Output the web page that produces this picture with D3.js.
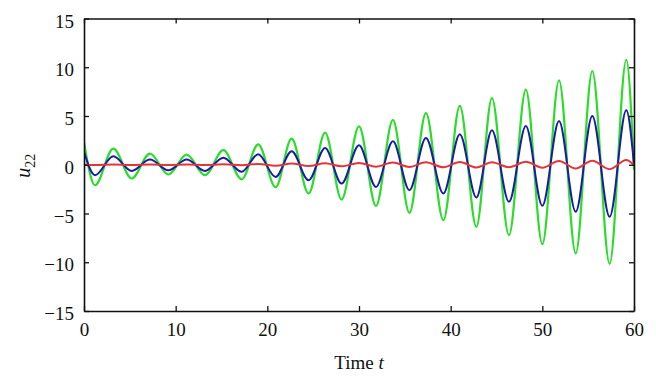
<!DOCTYPE html>
<html>
<head>
<meta charset="utf-8">
<script src="https://cdn.jsdelivr.net/npm/d3@7"></script>
<style>
  html, body { margin: 0; padding: 0; background: #fff; }
  svg { display: block; }
  text { font-family: "Liberation Serif", "DejaVu Serif", serif; fill: #111; }
</style>
</head>
<body>
<svg id="chart" width="656" height="383"></svg>
<script>
// Extremum times (t), shared by all three curves
const times = [0, 1.2, 3.2, 5.2, 7.2, 9.2, 11.2, 13.2, 15.2, 17.2, 19.0, 20.9, 22.65, 24.5, 26.3, 28.1,
  30.0, 31.85, 33.7, 35.5, 37.3, 39.2, 41.0, 42.8, 44.5, 46.36, 48.2, 50.0, 51.82, 53.64, 55.45, 57.34, 59.16, 60];
// green series values at those times
const greenValues = [2.3, -2.1, 1.66, -1.41, 1.15, -1.0, 1.04, -1.07, 1.5, -1.5, 2.1, -2.3, 2.68, -2.95, 3.3, -3.57,
  3.94, -4.22, 4.6, -4.93, 5.3, -5.68, 6.03, -6.37, 6.84, -7.22, 7.7, -8.14, 8.65, -9.09, 9.6, -10.18, 10.77, -0.5];
// blue series values
const blueValues = [1.3, -1.07, 0.87, -0.63, 0.53, -0.56, 0.53, -0.63, 0.73, -0.73, 1.07, -1.25, 1.38, -1.59, 1.72, -1.93,
  2.0, -2.27, 2.4, -2.61, 2.75, -2.95, 3.12, -3.36, 3.53, -3.8, 3.97, -4.21, 4.49, -4.83, 5.0, -5.34, 5.58, 0];
// red series values
const redValues = [0, -0.03, 0.02, -0.03, 0.02, -0.03, 0.02, -0.03, 0.05, -0.05, 0.08, -0.1, 0.12, -0.14, 0.15, -0.16,
  0.19, -0.2, 0.22, -0.22, 0.26, -0.26, 0.28, -0.28, 0.25, -0.25, 0.3, -0.3, 0.38, -0.38, 0.4, -0.45, 0.5, -0.05];

const xTicks = [0, 10, 20, 30, 40, 50, 60];
const yTicks = [-15, -10, -5, 0, 5, 10, 15];
const xDomain = [0, 60];
const yDomain = [-15, 15];

const svg = d3.select("#chart");
const L = 84, R = 634, T = 18.5, B = 311;
const x = d3.scaleLinear().domain(xDomain).range([L, R]);
const y = d3.scaleLinear().domain(yDomain).range([B, T]);

const line = d3.line().x(d => x(d[0])).y(d => y(d[1])).curve(d3.curveMonotoneX);
const clip = svg.append("clipPath").attr("id", "clip").append("rect")
  .attr("x", L).attr("y", T).attr("width", R - L).attr("height", B - T);

const plot = svg.append("g").attr("clip-path", "url(#clip)");
const series = [
  { vals: greenValues, color: "#2bdc2b", w: 2.2 },
  { vals: blueValues, color: "#1b1ba8", w: 2 },
  { vals: redValues, color: "#e23636", w: 2 }
];
series.forEach(s => {
  plot.append("path")
    .datum(times.map((t, i) => [t, s.vals[i]]))
    .attr("fill", "none")
    .attr("stroke", s.color)
    .attr("stroke-width", s.w)
    .attr("stroke-linejoin", "round")
    .attr("d", line);
});

// Axes: box with inward ticks
const tickLen = 5;
const axB = svg.append("g").attr("transform", `translate(0,${B})`)
  .call(d3.axisBottom(x).tickValues(xTicks).tickSizeInner(-tickLen).tickSizeOuter(0).tickPadding(12).tickFormat(d3.format("d")));
const axT = svg.append("g").attr("transform", `translate(0,${T})`)
  .call(d3.axisTop(x).tickValues(xTicks).tickSizeInner(-tickLen).tickSizeOuter(0).tickFormat(""));
const axL = svg.append("g").attr("transform", `translate(${L},0)`)
  .call(d3.axisLeft(y).tickValues(yTicks).tickSizeInner(-tickLen).tickSizeOuter(0).tickPadding(10)
    .tickFormat(d => d < 0 ? "\u2212" + Math.abs(d) : String(d)));
const axR = svg.append("g").attr("transform", `translate(${R},0)`)
  .call(d3.axisRight(y).tickValues(yTicks).tickSizeInner(-tickLen).tickSizeOuter(0).tickFormat(""));

[axB, axT, axL, axR].forEach(a => {
  a.select(".domain").attr("stroke", "#111").attr("stroke-width", 1.6);
  a.selectAll(".tick line").attr("stroke", "#111").attr("stroke-width", 1.3);
  a.selectAll("text").style("font-family", '"Liberation Serif", serif').style("font-size", "19px").attr("fill", "#111");
});
axL.selectAll(".tick text").attr("dy", "0.45em");
axB.selectAll(".tick text").attr("dy", "0.71em");

// Axis titles
const xt = svg.append("text").attr("x", (L + R) / 2).attr("y", 369).attr("text-anchor", "middle")
  .style("font-size", "19px");
xt.append("tspan").text("Time ");
xt.append("tspan").attr("font-style", "italic").text("t");

const yt = svg.append("text").attr("transform", `translate(30,${(T + B) / 2 + 1}) rotate(-90)`)
  .attr("text-anchor", "middle").style("font-size", "20px");
yt.append("tspan").attr("font-style", "italic").text("u");
yt.append("tspan").attr("dy", 5).style("font-size", "14px").text("22");
</script>
</body>
</html>
